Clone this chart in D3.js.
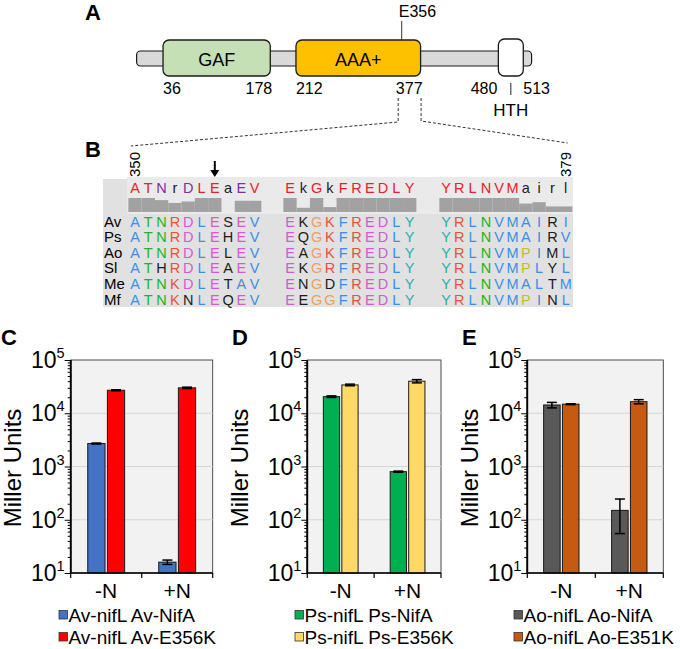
<!DOCTYPE html>
<html><head><meta charset="utf-8">
<script src="https://cdn.jsdelivr.net/npm/d3@7/dist/d3.min.js"></script>
<style>
html,body{margin:0;padding:0;background:#fff;}
svg{display:block;font-family:"Liberation Sans",Arial,Helvetica,sans-serif;}
</style></head><body>
<svg width="680" height="649"></svg>
<script>
// ---------------- DATA ----------------
const proteinLength = 524;
const domainNames = ["GAF", "AAA+", "HTH"];
const domainStarts = [36, 212, 480];
const domainEnds = [178, 377, 513];
const mutationSite = 356;
const mutationLabel = "E356";
const windowStart = 350;
const windowEnd = 379;

const speciesNames = ["Av", "Ps", "Ao", "Sl", "Me", "Mf"];
const sequences = [
  "ATNRDLESEV" + "EKGKFREDLY" + "YRLNVMAIRI",
  "ATNRDLEHEV" + "EQGKFREDLY" + "YRLNVMAIRV",
  "ATNRDLELEV" + "EAGKFREDLY" + "YRLNVMPIML",
  "ATHRDLEAEV" + "EKGRFREDLY" + "YRLNVMPLYL",
  "ATNKDLETAV" + "ENGDFREDLY" + "YRLNVMALTM",
  "ATNKNLEQEV" + "EEGGFREDLY" + "YRLNVMPINL"
];
// 'x' = residue shown uncoloured (black)
const uncolouredMask = [
  ".......x.." + ".x........" + "........x.",
  ".......x.." + ".x........" + "........x.",
  ".......x.." + ".x........" + "........x.",
  "..x....x.." + ".x........" + "........x.",
  ".......x.." + ".x.x......" + "........x.",
  "....x..x.." + ".x........" + "........x."
];
const consensusSeq = "ATNrDLEaEV" + "EkGkFREDLY" + "YRLNVMairl";
const conservation = [1, 1, 0.85, 0.65, 0.75, 1, 1, 0, 0.8, 0.8,
                      1, 0.3, 1, 0.35, 1, 1, 1, 1, 1, 1,
                      1, 1, 1, 1, 1, 1, 0.6, 0.7, 0.4, 0.4];

const conditions = ["-N", "+N"];
const yTickValues = [1e1, 1e2, 1e3, 1e4, 1e5];
const yTickExponents = ["1", "2", "3", "4", "5"];

const cLegend = ["Av-nifL Av-NifA", "Av-nifL Av-E356K"];
const cWild = [2700, 16];
const cWildErr = [60, 1.5];
const cMutant = [27000, 30000];
const cMutantErr = [600, 900];

const dLegend = ["Ps-nifL Ps-NifA", "Ps-nifL Ps-E356K"];
const dWild = [20500, 800];
const dWildErr = [700, 20];
const dMutant = [34000, 40000];
const dMutantErr = [1200, 2800];

const eLegend = ["Ao-nifL Ao-NifA", "Ao-nifL Ao-E351K"];
const eWild = [14300, 150];
const eWildErr = [1700, 95];
const eMutant = [14800, 16500];
const eMutantErr = [300, 1500];

// ---------------- STYLE ----------------
const domainFill = {"GAF": "#c5e0b4", "AAA+": "#ffc000", "HTH": "#ffffff"};
const clr = {blue: "#3a8fe6", green: "#22b322", red: "#e8513a", magenta: "#d35bd3",
             orange: "#eca15a", yellow: "#c2c01c", cyan: "#1fb0b0", black: "#1c1c1c"};
function residueColour(r) {
  if ("AILMFWVC".includes(r)) return clr.blue;
  if ("KR".includes(r)) return clr.red;
  if ("DE".includes(r)) return clr.magenta;
  if ("NQST".includes(r)) return clr.green;
  if (r === "G") return clr.orange;
  if (r === "P") return clr.yellow;
  if ("HY".includes(r)) return clr.cyan;
  return clr.black;
}

const svg = d3.select("svg");

function panelLetter(t, x, y) {
  svg.append("text").attr("x", x).attr("y", y).attr("font-size", 22)
    .attr("font-weight", "bold").attr("fill", "#000").text(t);
}

// ---------------- PANEL A ----------------
panelLetter("A", 85, 20);
const px = d3.scaleLinear().domain([1, proteinLength]).range([136.6, 531.6]);
const gA = svg.append("g");
gA.append("rect").attr("x", px(1)).attr("y", 51)
  .attr("width", px(proteinLength) - px(1)).attr("height", 15).attr("rx", 4)
  .attr("fill", "#d9d9d9").attr("stroke", "#1a1a1a").attr("stroke-width", 1.2);

domainNames.forEach((name, i) => {
  const isHTH = name === "HTH";
  gA.append("rect")
    .attr("x", px(domainStarts[i])).attr("y", isHTH ? 39 : 40)
    .attr("width", px(domainEnds[i]) - px(domainStarts[i]))
    .attr("height", isHTH ? 37 : 36).attr("rx", 6)
    .attr("fill", domainFill[name]).attr("stroke", "#1a1a1a").attr("stroke-width", 1.3);
  const mid = (px(domainStarts[i]) + px(domainEnds[i])) / 2;
  if (!isHTH) {
    gA.append("text").attr("x", mid).attr("y", 66).attr("text-anchor", "middle")
      .attr("font-size", 18).text(name);
    gA.append("text").attr("x", px(domainStarts[i])).attr("y", 94).attr("font-size", 16)
      .text(domainStarts[i]);
    gA.append("text").attr("x", px(domainEnds[i]) + 2).attr("y", 94).attr("font-size", 16)
      .attr("text-anchor", "end").text(domainEnds[i]);
  } else {
    gA.append("text").attr("x", px(domainStarts[i]) - 1).attr("y", 94).attr("font-size", 16)
      .attr("text-anchor", "end").text(domainStarts[i]);
    gA.append("text").attr("x", px(domainEnds[i])).attr("y", 94).attr("font-size", 16)
      .text(domainEnds[i]);
    gA.append("line").attr("x1", mid).attr("x2", mid).attr("y1", 83).attr("y2", 95)
      .attr("stroke", "#222").attr("stroke-width", 1);
    gA.append("text").attr("x", mid).attr("y", 116).attr("font-size", 17)
      .attr("text-anchor", "middle").text(name);
  }
});
// mutation marker
gA.append("line").attr("x1", px(mutationSite) - 3).attr("x2", px(mutationSite) - 3)
  .attr("y1", 21).attr("y2", 40).attr("stroke", "#333").attr("stroke-width", 1);
gA.append("text").attr("x", px(mutationSite) - 6).attr("y", 17).attr("font-size", 16)
  .text(mutationLabel);

// ---------------- PANEL B ----------------
panelLetter("B", 85, 157);
const colStep = 13.3;
const blockStart = [135, 290, 446];
const colInBlock = d3.scaleLinear().domain([0, 9]).range([0, 9 * colStep]);
const colX = i => blockStart[Math.floor(i / 10)] + colInBlock(i % 10);
const gB = svg.append("g");

// dashed zoom lines
const zoomLine = d3.line();
gB.append("path").attr("d", zoomLine([[px(windowStart) - 2, 98], [px(windowStart) - 2, 122], [colX(0) - 4, 146]]))
  .attr("fill", "none").attr("stroke", "#333").attr("stroke-dasharray", "3,2").attr("stroke-width", 1);
gB.append("path").attr("d", zoomLine([[px(windowEnd) - 1, 98], [px(windowEnd) - 1, 121], [colX(29) + 2, 143]]))
  .attr("fill", "none").attr("stroke", "#333").attr("stroke-dasharray", "3,2").attr("stroke-width", 1);

// backgrounds
gB.append("rect").attr("x", 103).attr("y", 179).attr("width", 470).attr("height", 128).attr("fill", "#e1e1e1");
gB.append("rect").attr("x", 127).attr("y", 177).attr("width", 446).attr("height", 37).attr("fill", "#eaeaea");

// window position labels
[[0, windowStart], [29, windowEnd]].forEach(([c, v]) => {
  gB.append("text").attr("transform", `translate(${colX(c) + 5},177) rotate(-90)`)
    .attr("font-size", 15).text(v);
});

// arrow
const ax = colX(mutationSite - windowStart);
gB.append("line").attr("x1", ax).attr("x2", ax).attr("y1", 161).attr("y2", 171)
  .attr("stroke", "#000").attr("stroke-width", 2);
gB.append("path").attr("d", `M${ax - 4.5},170 L${ax + 4.5},170 L${ax},177 Z`).attr("fill", "#000");

// conservation bars
conservation.forEach((v, i) => {
  if (v <= 0) return;
  gB.append("rect").attr("x", colX(i) - colStep / 2).attr("width", colStep)
    .attr("y", 212 - v * 14).attr("height", v * 14).attr("fill", "#a2a2a2");
});

// consensus header
consensusSeq.split("").forEach((ch, i) => {
  let col = clr.black;
  if (ch === ch.toUpperCase()) {
    const allSame = sequences.every(s => s[i] === ch);
    col = allSame ? "#e8202a" : "#8a2aa8";
  }
  gB.append("text").attr("x", colX(i)).attr("y", 193).attr("text-anchor", "middle")
    .attr("font-size", 14.5).attr("fill", col).text(ch);
});

// rows
const rowY = d3.scaleLinear().domain([0, 5]).range([221, 299]);
speciesNames.forEach((sp, r) => {
  gB.append("text").attr("x", 104).attr("y", rowY(r) + 5.5).attr("font-size", 15).text(sp);
  sequences[r].split("").forEach((ch, i) => {
    const col = uncolouredMask[r][i] === "x" ? clr.black : residueColour(ch);
    gB.append("text").attr("x", colX(i)).attr("y", rowY(r) + 5.5).attr("text-anchor", "middle")
      .attr("font-size", 14.5).attr("fill", col).text(ch);
  });
});

// ---------------- PANELS C, D, E ----------------
function barPanel(o) {
  const g = svg.append("g");
  const y = d3.scaleLog().domain([1e1, 1e5]).range([573, 360]);
  const x0 = d3.scaleBand().domain(conditions).range([o.left, o.right]);
  const inner = x0.bandwidth() * 0.52;
  const x1 = d3.scaleBand().domain([0, 1]).range([-inner / 2, inner / 2]).paddingInner(0.12);

  g.append("rect").attr("x", o.left).attr("y", y(1e5)).attr("width", o.right - o.left)
    .attr("height", y(1e1) - y(1e5)).attr("fill", "#f2f2f2").attr("stroke", "#3a3a3a").attr("stroke-width", 0.9);
  g.selectAll(".grid").data(yTickValues.slice(1, 4)).join("line")
    .attr("x1", o.left).attr("x2", o.right).attr("y1", d => y(d)).attr("y2", d => y(d))
    .attr("stroke", "#d6d6d6").attr("stroke-width", 1);

  const sets = [[o.wild, o.wildErr], [o.mut, o.mutErr]];
  sets.forEach(([vals, errs], si) => {
    conditions.forEach((c, ci) => {
      const bx = x0(c) + x0.bandwidth() / 2 + x1(si);
      const bw = x1.bandwidth();
      g.append("rect").attr("x", bx).attr("y", y(vals[ci])).attr("width", bw)
        .attr("height", y(1e1) - y(vals[ci])).attr("fill", o.colors[si])
        .attr("stroke", "#1a1a1a").attr("stroke-width", 1);
      const cx = bx + bw / 2;
      const hi = y(vals[ci] + errs[ci]), lo = y(vals[ci] - errs[ci]);
      g.append("line").attr("x1", cx).attr("x2", cx).attr("y1", hi).attr("y2", lo)
        .attr("stroke", "#000").attr("stroke-width", 1.5);
      [hi, lo].forEach(yy => g.append("line").attr("x1", cx - 5).attr("x2", cx + 5)
        .attr("y1", yy).attr("y2", yy).attr("stroke", "#000").attr("stroke-width", 1.5));
    });
  });

  // y axis
  const minor = y.ticks().filter(v => !yTickValues.includes(v));
  const yAxisMinor = d3.axisLeft(y).tickValues(minor).tickSize(3).tickFormat("");
  const yAxisMajor = d3.axisLeft(y).tickValues(yTickValues).tickSize(6).tickFormat("");
  const ga1 = g.append("g").attr("transform", `translate(${o.left},0)`).call(yAxisMinor);
  const ga2 = g.append("g").attr("transform", `translate(${o.left},0)`).call(yAxisMajor);
  [ga1, ga2].forEach(a => {
    a.selectAll("line").attr("stroke", "#000").attr("stroke-width", 1);
    a.select(".domain").attr("stroke", "#000").attr("stroke-width", 1.6).attr("d", `M0,${y(1e5)}V${y(1e1)}`);
  });
  yTickValues.forEach((v, i) => {
    const t = g.append("text").attr("x", o.left - 6).attr("y", y(v) + 8)
      .attr("text-anchor", "end").attr("font-size", 23);
    t.append("tspan").text("10");
    t.append("tspan").attr("dy", -10).attr("font-size", 14.5).text(yTickExponents[i]);
  });

  // x axis
  const xAxis = d3.axisBottom(x0).tickSize(0).tickFormat("");
  const gx = g.append("g").attr("transform", `translate(0,${y(1e1)})`).call(xAxis);
  gx.select(".domain").attr("stroke", "#000").attr("stroke-width", 1.6).attr("d", `M${o.left},0H${o.right}`);
  const bounds = [o.left, x0("+N"), o.right];
  g.selectAll(".xt").data(bounds).join("line").attr("x1", d => d).attr("x2", d => d)
    .attr("y1", y(1e1)).attr("y2", y(1e1) + 5).attr("stroke", "#000").attr("stroke-width", 1.2);
  conditions.forEach(c => {
    g.append("text").attr("x", x0(c) + x0.bandwidth() / 2).attr("y", 598)
      .attr("text-anchor", "middle").attr("font-size", 21).text(c);
  });

  // axis title
  g.append("text").attr("transform", `translate(${o.titleX},468) rotate(-90)`)
    .attr("text-anchor", "middle").attr("font-size", 24).text("Miller Units");

  // legend
  o.legend.forEach((lab, i) => {
    const ly = 615 + i * 22;
    g.append("rect").attr("x", o.legendX).attr("y", ly - 4.5).attr("width", 8.5).attr("height", 8.5)
      .attr("fill", o.colors[i]).attr("stroke", "#333").attr("stroke-width", 0.8);
    g.append("text").attr("x", o.legendX + 9.5).attr("y", ly + 7).attr("font-size", 19).text(lab);
  });
}

panelLetter("C", 1, 345);
barPanel({left: 70.7, right: 212.7, titleX: 21, legendX: 59,
  wild: cWild, wildErr: cWildErr, mut: cMutant, mutErr: cMutantErr,
  colors: ["#4472c4", "#ff0000"], legend: cLegend});
panelLetter("D", 232, 345);
barPanel({left: 307.3, right: 441, titleX: 248, legendX: 295,
  wild: dWild, wildErr: dWildErr, mut: dMutant, mutErr: dMutantErr,
  colors: ["#00b050", "#ffd966"], legend: dLegend});
panelLetter("E", 462, 345);
barPanel({left: 527.3, right: 663.3, titleX: 478, legendX: 514,
  wild: eWild, wildErr: eWildErr, mut: eMutant, mutErr: eMutantErr,
  colors: ["#595959", "#c55a11"], legend: eLegend});
</script>
</body></html>
